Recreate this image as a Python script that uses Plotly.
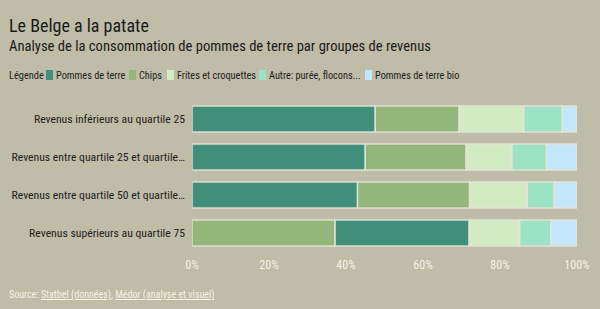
import plotly.graph_objects as go

categories = [
    "Revenus inférieurs au quartile 25",
    "Revenus entre quartile 25 et quartile…",
    "Revenus entre quartile 50 et quartile…",
    "Revenus supérieurs au quartile 75",
]
series_names = ["Pommes de terre", "Chips", "Frites et croquettes", "Autre: purée, flocons...", "Pommes de terre bio"]
pommes = [47.6, 45.0, 43.0, 34.9]
chips = [21.8, 26.2, 29.1, 37.1]
frites = [16.8, 11.9, 15.0, 13.1]
autre = [10.0, 9.0, 7.0, 8.1]
bio = [3.8, 7.9, 5.9, 6.8]
tick_vals = [0, 20, 40, 60, 80, 100]
tick_text = ["0%", "20%", "40%", "60%", "80%", "100%"]

colors = ["#3f8f7a", "#93b77a", "#d2ebc2", "#9ce3c5", "#c3e6fb"]
values = [pommes, chips, frites, autre, bio]
BG = "#bfbca8"
FONT = "Roboto Condensed, Liberation Sans Narrow, DejaVu Sans Condensed, Roboto, sans-serif"

# per-row descending order (as in the reference), compute bases
bases = [[0.0] * len(categories) for _ in values]
for r in range(len(categories)):
    order = sorted(range(len(values)), key=lambda s: -values[s][r])
    acc = 0.0
    for s in order:
        bases[s][r] = acc
        acc += values[s][r]

fig = go.Figure()
for s, name in enumerate(series_names):
    fig.add_trace(go.Bar(
        y=categories, x=values[s], base=bases[s], name=name, orientation="h",
        marker=dict(color=colors[s], line=dict(color="rgba(230,228,215,0.9)", width=1.5)),
        width=0.68, showlegend=False,
    ))

W, H = 600, 309
l, r, t, b = 192, 23, 100, 57
pw, ph = W - l - r, H - t - b

def px(x):
    return (x - l) / pw

def py(y):
    return (H - b - y) / ph

annotations = [
    dict(text="Le Belge a la patate", x=px(7), y=py(25), xref="paper", yref="paper",
         xanchor="left", yanchor="middle", showarrow=False,
         font=dict(size=18, color="#1a1a1a", family=FONT)),
    dict(text="Analyse de la consommation de pommes de terre par groupes de revenus",
         x=px(7), y=py(46), xref="paper", yref="paper",
         xanchor="left", yanchor="middle", showarrow=False,
         font=dict(size=14.6, color="#1a1a1a", family=FONT)),
    dict(text="Source: <span style='text-decoration:underline'>Statbel (données)</span>, "
              "<span style='text-decoration:underline'>Médor (analyse et visuel)</span>",
         x=px(7), y=py(295), xref="paper", yref="paper",
         xanchor="left", yanchor="middle", showarrow=False,
         font=dict(size=10, color="#f4f2e6", family=FONT)),
    dict(text="Légende", x=px(7), y=py(75), xref="paper", yref="paper",
         xanchor="left", yanchor="middle", showarrow=False,
         font=dict(size=10.4, color="#222222", family=FONT)),
]
shapes = []
legend_swatch_x = [46, 129, 167, 259, 365]
for s, name in enumerate(series_names):
    sx = legend_swatch_x[s]
    shapes.append(dict(type="rect", xref="paper", yref="paper",
                       x0=px(sx), x1=px(sx + 7), y0=py(80), y1=py(70),
                       fillcolor=colors[s], line=dict(width=0)))
    annotations.append(dict(text=name, x=px(sx + 8), y=py(75), xref="paper", yref="paper",
                            xanchor="left", yanchor="middle", showarrow=False,
                            font=dict(size=10.3, color="#222222", family=FONT)))

fig.update_layout(
    width=W, height=H, barmode="overlay",
    paper_bgcolor=BG, plot_bgcolor=BG,
    margin=dict(l=l, r=r, t=t, b=b, autoexpand=False),
    font=dict(family=FONT, size=12, color="#222222"),
    showlegend=False,
    xaxis=dict(range=[0, 100], tickvals=tick_vals, ticktext=tick_text,
               showgrid=False, zeroline=False, showline=False,
               ticklabelstandoff=4,
               tickfont=dict(size=12, color="#f4f2e6"), fixedrange=True),
    yaxis=dict(autorange="reversed", showgrid=False, zeroline=False, showline=False,
               ticks="", ticklabelstandoff=6,
               tickfont=dict(size=11.7, color="#222222"), fixedrange=True),
    annotations=annotations,
    shapes=shapes,
)

fig.write_html("out.html")
